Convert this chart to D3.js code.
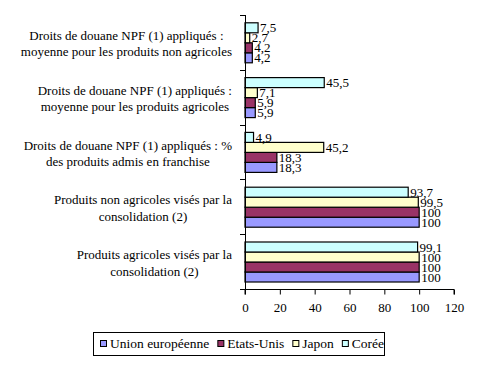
<!DOCTYPE html>
<html><head><meta charset="utf-8">
<script src="https://cdn.jsdelivr.net/npm/d3@7"></script>
<style>body{margin:0;background:#fff}svg{display:block}</style>
</head><body><svg id="c" width="480" height="366"></svg>
<script>
const categories = [
  ["Droits de douane NPF (1) appliqués :", "moyenne pour les produits non agricoles"],
  ["Droits de douane NPF  (1) appliqués :", "moyenne pour les produits agricoles"],
  ["Droits de douane NPF (1) appliqués : %", "des produits admis en franchise"],
  ["Produits non agricoles visés par la", "consolidation (2)"],
  ["Produits agricoles visés par la", "consolidation (2)"]
];
const seriesNames = ["Union européenne", "Etats-Unis", "Japon", "Corée"];
const seriesColors = ["#9999FF", "#993366", "#FFFFCC", "#CCFFFF"];
const ue    = [4.2, 5.9, 18.3, 100, 100];
const us    = [4.2, 5.9, 18.3, 100, 100];
const japon = [2.7, 7.1, 45.2, 99.5, 100];
const coree = [7.5, 45.5, 4.9, 93.7, 99.1];
const xTicks = [0, 20, 40, 60, 80, 100, 120];

const FONT = 'Times, "Liberation Serif"';
const values = [ue, us, japon, coree];
const svg = d3.select("#c");
const x = d3.scaleLinear().domain([0, 120]).range([245, 454]);
const y = d3.scaleBand().domain(d3.range(categories.length)).range([15, 289]).padding(0);
const inner = d3.scaleBand().domain([3, 2, 1, 0]).range([7.8, 47.8]).padding(0);
const fmt = v => String(v).replace(".", ",");

values.forEach((arr, s) => {
  svg.append("g").selectAll("rect").data(arr).join("rect")
    .attr("x", x(0))
    .attr("y", (d, i) => y(i) + inner(s))
    .attr("width", d => x(d) - x(0))
    .attr("height", inner.bandwidth())
    .attr("fill", seriesColors[s])
    .attr("stroke", "#000").attr("stroke-width", 1.2);
});
values.forEach((arr, s) => {
  svg.append("g").selectAll("text").data(arr).join("text")
    .attr("x", d => x(d) + 2)
    .attr("y", (d, i) => y(i) + inner(s) + inner.bandwidth() / 2 + 4.5)
    .style("font-family", FONT).style("font-size", "13px")
    .text(d => fmt(d));
});

const ya = svg.append("g");
ya.append("line").attr("x1", 245.5).attr("x2", 245.5).attr("y1", 15).attr("y2", 289).attr("stroke", "#000");
ya.selectAll("line.t").data(d3.range(categories.length + 1)).join("line").attr("class", "t")
  .attr("x1", 240).attr("x2", 245.5)
  .attr("y1", i => Math.round(15 + i * y.step()) + 0.5).attr("y2", i => Math.round(15 + i * y.step()) + 0.5)
  .attr("stroke", "#000");

categories.forEach((lines, i) => {
  const g = svg.append("g");
  const t = lines.map((l, k) => g.append("text")
    .attr("y", y(i) + y.bandwidth() / 2 + (k === 0 ? -2.5 : 14))
    .style("font-family", FONT).style("font-size", "13px")
    .attr("text-anchor", "middle").text(l));
  const w = d3.max(t, n => n.node().getComputedTextLength());
  t.forEach(n => n.attr("x", 232 - w / 2));
});

const xa = svg.append("g").attr("transform", "translate(0,289.5)")
  .call(d3.axisBottom(x).tickValues(xTicks).tickSize(5).tickPadding(8).tickFormat(d => d));
xa.selectAll("text").style("font-family", FONT).style("font-size", "13px").attr("fill", "#000");
xa.selectAll("line").attr("stroke", "#000");
xa.select(".domain").attr("stroke", "#000").attr("d", `M${x(0)},5V0H${x(120)}V5`);

const lg = svg.append("g");
lg.append("rect").attr("x", 93.5).attr("y", 332.5).attr("width", 291).attr("height", 23)
  .attr("fill", "#fff").attr("stroke", "#000");
let cx = 100;
seriesNames.forEach((n, s) => {
  lg.append("rect").attr("x", cx + 0.5).attr("y", 340.5).attr("width", 6).attr("height", 6)
    .attr("fill", seriesColors[s]).attr("stroke", "#000");
  const t = lg.append("text").attr("x", cx + 10).attr("y", 348)
    .style("font-family", FONT).style("font-size", "13.5px").text(n);
  cx += 10 + t.node().getComputedTextLength() + 8;
});
</script></body></html>
